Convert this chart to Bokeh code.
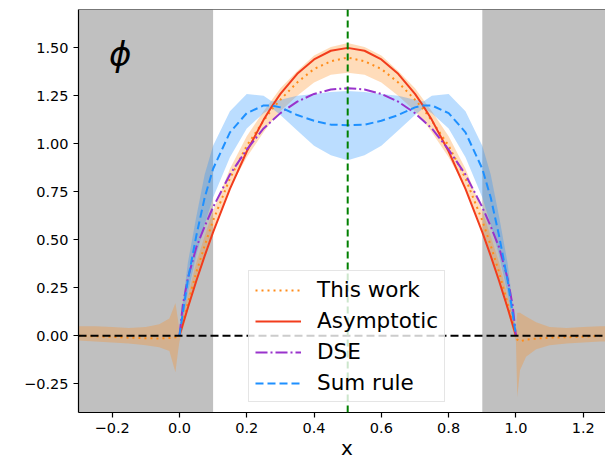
from bokeh.plotting import figure
from bokeh.models import (Span, Label, BoxAnnotation, Legend, LegendItem,
                          FixedTicker, Range1d)
from bokeh.embed import file_html
from bokeh.resources import INLINE

# ---------------- data ----------------
x_grid = [0.0, 0.01, 0.025, 0.05, 0.075, 0.1, 0.15, 0.2, 0.25, 0.275, 0.3, 0.35, 0.4, 0.45, 0.5,
          0.55, 0.6, 0.65, 0.7, 0.725, 0.75, 0.8, 0.85, 0.9, 0.925, 0.95, 0.975, 0.99, 1.0]

asymptotic = [0.0, 0.059, 0.146, 0.285, 0.416, 0.54, 0.765, 0.96, 1.125, 1.196, 1.26, 1.365, 1.44, 1.485, 1.5,
              1.485, 1.44, 1.365, 1.26, 1.196, 1.125, 0.96, 0.765, 0.54, 0.416, 0.285, 0.146, 0.059, 0.0]

dse = [0.0, 0.16, 0.30, 0.46, 0.57, 0.67, 0.84, 0.97, 1.08, 1.12, 1.16, 1.22, 1.26, 1.283, 1.29,
       1.283, 1.26, 1.22, 1.16, 1.12, 1.08, 0.97, 0.84, 0.67, 0.57, 0.46, 0.30, 0.16, 0.0]

sum_rule = [0.0, 0.12, 0.29, 0.52, 0.72, 0.87, 1.06, 1.16, 1.20, 1.20, 1.19, 1.15, 1.12, 1.10, 1.097,
            1.10, 1.12, 1.15, 1.19, 1.20, 1.20, 1.16, 1.06, 0.87, 0.72, 0.52, 0.29, 0.12, 0.0]
sum_rule_low = [0.0, 0.08, 0.22, 0.42, 0.58, 0.72, 0.93, 1.08, 1.16, 1.185, 1.15, 1.07, 0.99, 0.94, 0.915,
                0.94, 0.99, 1.07, 1.15, 1.185, 1.16, 1.08, 0.93, 0.72, 0.58, 0.42, 0.22, 0.08, 0.0]
sum_rule_high = [0.0, 0.17, 0.38, 0.62, 0.84, 0.99, 1.17, 1.26, 1.25, 1.22, 1.23, 1.25, 1.26, 1.27, 1.275,
                 1.27, 1.26, 1.25, 1.23, 1.22, 1.25, 1.26, 1.17, 0.99, 0.84, 0.62, 0.38, 0.17, 0.0]

# "This work" extends over the whole x axis
x_this_work = [-0.30, -0.25, -0.20, -0.15, -0.10, -0.06, -0.03, -0.012, -0.004,
               0.0, 0.01, 0.025, 0.05, 0.075, 0.1, 0.15, 0.2, 0.25, 0.275, 0.3, 0.35, 0.4, 0.45, 0.5,
               0.55, 0.6, 0.65, 0.7, 0.725, 0.75, 0.8, 0.85, 0.9, 0.925, 0.95, 0.975, 0.99, 1.0,
               1.004, 1.012, 1.03, 1.06, 1.10, 1.15, 1.20, 1.25, 1.30]
this_work = [0.0, -0.003, -0.006, -0.010, -0.013, -0.014, -0.012, -0.008, -0.003,
             0.0, 0.07, 0.17, 0.33, 0.47, 0.60, 0.82, 0.99, 1.12, 1.18, 1.23, 1.32, 1.39, 1.43, 1.45,
             1.43, 1.39, 1.32, 1.23, 1.18, 1.12, 0.99, 0.82, 0.60, 0.47, 0.33, 0.17, 0.07, 0.0,
             -0.02, -0.03, -0.02, -0.015, -0.010, -0.008, -0.005, -0.002, 0.0]
this_work_low = [-0.025, -0.03, -0.035, -0.04, -0.05, -0.06, -0.08, -0.19, -0.08,
                 -0.03, 0.03, 0.13, 0.29, 0.43, 0.55, 0.77, 0.93, 1.06, 1.12, 1.17, 1.25, 1.32, 1.36, 1.37,
                 1.36, 1.32, 1.25, 1.17, 1.12, 1.06, 0.93, 0.77, 0.55, 0.43, 0.29, 0.13, 0.03, -0.03,
                 -0.32, -0.18, -0.11, -0.07, -0.05, -0.04, -0.035, -0.03, -0.03]
this_work_high = [0.05, 0.05, 0.045, 0.04, 0.045, 0.06, 0.09, 0.17, 0.08,
                  0.03, 0.11, 0.21, 0.38, 0.52, 0.65, 0.87, 1.04, 1.17, 1.23, 1.29, 1.38, 1.46, 1.505, 1.525,
                  1.505, 1.46, 1.38, 1.29, 1.23, 1.17, 1.04, 0.87, 0.65, 0.52, 0.38, 0.21, 0.11, 0.03,
                  0.12, 0.12, 0.10, 0.07, 0.045, 0.04, 0.045, 0.05, 0.05]

shaded_regions = [(-0.3, 0.1), (0.9, 1.3)]
x_mid = 0.5
y_zero = 0.0

x_ticks = [-0.2, 0.0, 0.2, 0.4, 0.6, 0.8, 1.0, 1.2]
x_tick_labels = ["\u22120.2", "0.0", "0.2", "0.4", "0.6", "0.8", "1.0", "1.2"]
y_ticks = [-0.25, 0.0, 0.25, 0.5, 0.75, 1.0, 1.25, 1.5]
y_tick_labels = ["\u22120.25", "0.00", "0.25", "0.50", "0.75", "1.00", "1.25", "1.50"]

# ---------------- styling ----------------
FONT = "DejaVu Sans"
GRAY = "#c0c0c0"
ORANGE = "#ff8c1a"
RED = "#f23c1c"
PURPLE = "#9933cc"
BLUE = "#1e90ff"

X0, X1 = -0.3, -0.3 + 527 / 336.5
Y0, Y1 = -0.4, 1.7

p = figure(width=605, height=462, output_backend="svg", toolbar_location=None,
           x_range=Range1d(X0, X1), y_range=Range1d(Y0, Y1),
           min_border_left=78, min_border_right=0, min_border_top=9, min_border_bottom=50)
p.outline_line_color = None
p.grid.visible = False
p.background_fill_color = "white"
p.border_fill_color = "white"

for lo, hi in shaded_regions:
    p.add_layout(BoxAnnotation(left=lo, right=hi, fill_color=GRAY, fill_alpha=1.0,
                               line_color=None, level="underlay"))

# bands
p.varea(x=x_this_work, y1=this_work_low, y2=this_work_high, fill_color=ORANGE, fill_alpha=0.3)
p.varea(x=x_grid, y1=sum_rule_low, y2=sum_rule_high, fill_color=BLUE, fill_alpha=0.3)

# lines
r_tw = p.line(x_this_work, this_work, line_color=ORANGE, line_width=2, line_dash="2 4")
r_as = p.line(x_grid, asymptotic, line_color=RED, line_width=2)
r_dse = p.line(x_grid, dse, line_color=PURPLE, line_width=2, line_dash="12 3 2 3")
r_sr = p.line(x_grid, sum_rule, line_color=BLUE, line_width=2, line_dash="8 4")

# reference lines
p.add_layout(Span(location=y_zero, dimension="width", line_color="black",
                  line_width=2, line_dash="8 4"))
p.add_layout(Span(location=x_mid, dimension="height", line_color="green",
                  line_width=2, line_dash="7 4"))
# top spine
p.add_layout(Span(location=Y1, dimension="width", line_color="black", line_width=1.2))

# axes
for ax in (p.xaxis[0], p.yaxis[0]):
    ax.axis_line_color = "black"
    ax.axis_line_width = 1.2
    ax.major_tick_line_color = "black"
    ax.major_tick_line_width = 1.2
    ax.major_tick_out = 5
    ax.major_tick_in = 0
    ax.minor_tick_line_color = None
    ax.major_label_text_font = FONT
    ax.major_label_text_font_size = "14.5px"
    ax.major_label_text_color = "black"
    ax.major_label_standoff = 5

p.xaxis.ticker = FixedTicker(ticks=x_ticks)
p.xaxis.major_label_overrides = {t: s for t, s in zip(x_ticks, x_tick_labels)}
p.yaxis.ticker = FixedTicker(ticks=y_ticks)
p.yaxis.major_label_overrides = {t: s for t, s in zip(y_ticks, y_tick_labels)}

# x-axis title (en space shifts it to the centre of the original, wider axes)
p.xaxis.axis_label = "\u2002x"
p.xaxis.axis_label_text_font = FONT
p.xaxis.axis_label_text_font_size = "20px"
p.xaxis.axis_label_text_font_style = "normal"
p.xaxis.axis_label_text_color = "black"
p.xaxis.axis_label_standoff = 0

p.add_layout(Label(x=-0.176, y=1.467, text="\u03d5", text_font=FONT, text_font_style="italic",
                   text_font_size="34px", text_align="center", text_baseline="middle",
                   text_color="black"))

legend = Legend(items=[LegendItem(label="This work", renderers=[r_tw]),
                       LegendItem(label="Asymptotic", renderers=[r_as]),
                       LegendItem(label="DSE", renderers=[r_dse]),
                       LegendItem(label="Sum rule", renderers=[r_sr])],
                location=(170, 10), margin=0, padding=6, spacing=6,
                glyph_width=46, glyph_height=24, label_height=24, label_standoff=16,
                label_text_font=FONT, label_text_font_size="21.5px",
                label_text_baseline="middle", label_text_color="black",
                border_line_color="#cccccc", border_line_width=1,
                background_fill_color="white", background_fill_alpha=0.8)
p.add_layout(legend)

open("out.html", "w").write(file_html(p, INLINE))
